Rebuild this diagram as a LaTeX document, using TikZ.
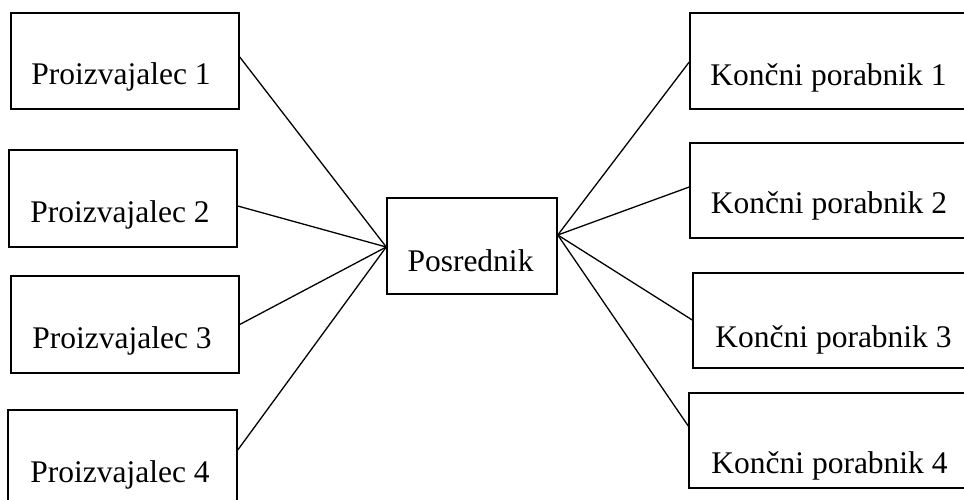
\documentclass[tikz,border=0pt]{standalone}
\usepackage{fontspec}
\setmainfont{Liberation Serif}
\begin{document}
\begin{tikzpicture}[x=1pt,y=-1pt,
  box/.style={draw, line width=1.5pt, inner sep=0pt, minimum height=96pt},
  lbl/.style={anchor=base, inner sep=0pt, font=\fontsize{31.5}{36}\selectfont},
  conn/.style={line width=1.3pt}]
\clip (0,0) rectangle (964,500);
\fill[white] (0,0) rectangle (964,500);
% left boxes
\node[box, minimum width=228pt] (p1) at (125,61) {};
\node[box, minimum width=228pt, minimum height=97pt] (p2) at (123,198.5) {};
\node[box, minimum width=228pt, minimum height=97pt] (p3) at (125,324.5) {};
\node[box, minimum width=229pt] (p4) at (122.5,458) {};
% center
\node[box, minimum width=170pt] (c) at (472,246) {};
% right boxes
\node[box, minimum width=280pt] (k1) at (830,61) {};
\node[box, minimum width=280pt, minimum height=95pt] (k2) at (830,190.5) {};
\node[box, minimum width=280pt, minimum height=95pt] (k3) at (833,320.5) {};
\node[box, minimum width=280pt, minimum height=95pt] (k4) at (829,440.5) {};
% labels
\node[lbl] (p1t) at (121,85) {Proizvajalec 1};
\node[lbl] (p2t) at (120,222) {Proizvajalec 2};
\node[lbl] (p3t) at (122,348) {Proizvajalec 3};
\node[lbl] (p4t) at (120,482) {Proizvajalec 4};
\node[lbl] (ct) at (470.5,271) {Posrednik};
\node[lbl] (k1t) at (828.5,86) {Končni porabnik 1};
\node[lbl] (k2t) at (829,213) {Končni porabnik 2};
\node[lbl] (k3t) at (833.5,347) {Končni porabnik 3};
\node[lbl] (k4t) at (829.5,473) {Končni porabnik 4};
% connectors
\draw[conn] ([yshift=4pt]p1.east) -- ([yshift=-1pt]c.west);
\draw[conn] ([yshift=-7.5pt]p2.east) -- ([yshift=-1pt]c.west);
\draw[conn] (p3.east) -- ([yshift=-1pt]c.west);
\draw[conn] ([yshift=8pt]p4.east) -- ([yshift=-1pt]c.west);
\draw[conn] ([yshift=11pt]c.east) -- ([yshift=-1pt]k1.west);
\draw[conn] ([yshift=11pt]c.east) -- ([yshift=3.5pt]k2.west);
\draw[conn] ([yshift=11pt]c.east) -- ([yshift=0.5pt]k3.west);
\draw[conn] ([yshift=11pt]c.east) -- ([yshift=14.5pt]k4.west);
\end{tikzpicture}
\end{document}
